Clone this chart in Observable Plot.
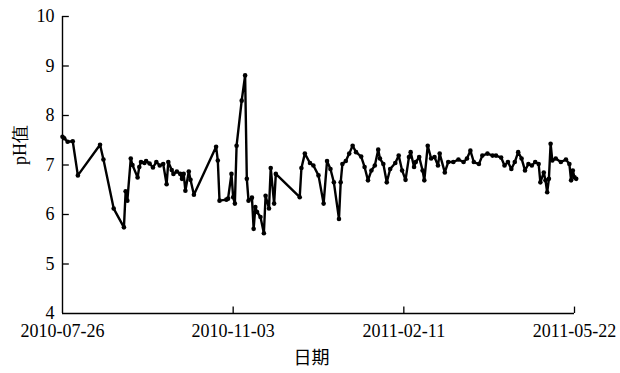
<!DOCTYPE html>
<html>
<head>
<meta charset="utf-8">
<script src="https://cdn.jsdelivr.net/npm/d3@7"></script>
<script src="https://cdn.jsdelivr.net/npm/@observablehq/plot@0.6"></script>
<style>
  html, body { margin: 0; padding: 0; background: #fff; }
  #chart svg { display: block; }
</style>
</head>
<body>
<div id="chart"></div>
<script>
const dates = [
  "2010-07-26","2010-07-27","2010-07-29","2010-08-01","2010-08-04","2010-08-17","2010-08-19","2010-08-25","2010-08-31",
  "2010-09-01","2010-09-02","2010-09-04","2010-09-05","2010-09-08","2010-09-09","2010-09-10","2010-09-12","2010-09-13",
  "2010-09-15","2010-09-17","2010-09-19","2010-09-21","2010-09-23","2010-09-25","2010-09-26","2010-09-28","2010-09-29",
  "2010-10-01","2010-10-03","2010-10-04","2010-10-05","2010-10-06","2010-10-08","2010-10-09","2010-10-11","2010-10-24",
  "2010-10-25","2010-10-26","2010-10-30","2010-10-31","2010-11-02","2010-11-03","2010-11-04","2010-11-05","2010-11-08",
  "2010-11-10","2010-11-11","2010-11-12","2010-11-14","2010-11-15","2010-11-16","2010-11-17","2010-11-19","2010-11-21",
  "2010-11-22","2010-11-24","2010-11-25","2010-11-27","2010-11-28","2010-12-12","2010-12-13","2010-12-15","2010-12-18",
  "2010-12-20","2010-12-23","2010-12-26","2010-12-28","2010-12-30","2011-01-01","2011-01-04","2011-01-05","2011-01-06",
  "2011-01-08","2011-01-10","2011-01-12","2011-01-14","2011-01-17","2011-01-19","2011-01-21","2011-01-23","2011-01-25",
  "2011-01-27","2011-01-28","2011-01-30","2011-02-01","2011-02-03","2011-02-06","2011-02-08","2011-02-10","2011-02-12",
  "2011-02-14","2011-02-15","2011-02-17","2011-02-18","2011-02-20","2011-02-22","2011-02-23","2011-02-25","2011-02-27",
  "2011-03-01","2011-03-03","2011-03-04","2011-03-07","2011-03-09","2011-03-12","2011-03-15","2011-03-18","2011-03-20",
  "2011-03-22","2011-03-24","2011-03-27","2011-03-29","2011-04-01","2011-04-04","2011-04-06","2011-04-09","2011-04-11",
  "2011-04-13","2011-04-15","2011-04-17","2011-04-19","2011-04-21","2011-04-23","2011-04-25","2011-04-27","2011-04-29",
  "2011-05-01","2011-05-02","2011-05-04","2011-05-05","2011-05-06","2011-05-07","2011-05-08","2011-05-09","2011-05-11",
  "2011-05-14","2011-05-17","2011-05-19","2011-05-20","2011-05-21","2011-05-22","2011-05-23"
];
const phValues = [
  7.57,7.54,7.47,7.48,6.79,7.41,7.11,6.12,5.74,
  6.47,6.28,7.13,7.00,6.75,6.96,7.06,7.04,7.08,
  7.03,6.95,7.06,6.99,7.02,6.61,7.06,6.90,6.82,
  6.87,6.82,6.72,6.82,6.48,6.87,6.70,6.40,7.37,
  7.09,6.28,6.30,6.32,6.82,6.35,6.22,7.39,8.30,
  8.81,6.72,6.28,6.34,5.71,6.15,6.05,5.95,5.62,
  6.38,6.12,6.94,6.22,6.82,6.35,6.94,7.23,7.04,
  6.99,6.79,6.22,7.08,6.92,6.65,5.91,6.65,7.02,
  7.08,7.23,7.39,7.26,7.17,6.96,6.69,6.89,6.99,
  7.31,7.13,7.02,6.65,6.92,7.04,7.19,6.89,6.70,
  7.16,7.26,6.96,7.06,7.16,6.89,6.69,7.39,7.13,
  7.16,6.99,7.23,6.85,7.06,7.06,7.11,7.06,7.13,
  7.29,7.06,7.02,7.19,7.23,7.19,7.19,7.15,6.99,
  7.06,6.92,7.06,7.26,7.13,6.89,7.02,6.99,7.06,
  7.02,6.65,6.85,6.69,6.45,6.72,7.43,7.09,7.13,
  7.06,7.11,7.02,6.69,6.89,6.75,6.72
];
const xTickLabels = ["2010-07-26","2010-11-03","2011-02-11","2011-05-22"];
const yTickValues = [4,5,6,7,8,9,10];
const xLabel = "日期";
const yLabel = "pH值";

const serif = "'Liberation Serif', 'Times New Roman', serif";
const data = dates.map((d, i) => ({date: new Date(d), ph: phValues[i]}));
const xTicks = xTickLabels.map(d => new Date(d));
const xStart = xTicks[0];
const xEnd = xTicks[xTicks.length - 1];
const fmt = d3.utcFormat("%Y-%m-%d");

const chart = Plot.plot({
  width: 620,
  height: 373,
  marginTop: 16,
  marginRight: 46,
  marginBottom: 60,
  marginLeft: 62,
  style: {fontFamily: serif, fontSize: "18px", color: "#000", background: "#fff"},
  x: {type: "utc", domain: [xStart, xEnd]},
  y: {domain: [4, 10]},
  marks: [
    Plot.axisX(xTicks, {tickSize: 0, tickPadding: 11, tickFormat: fmt, fontSize: 18, fontFamily: serif, fontVariant: "normal", label: null}),
    Plot.axisY(yTickValues, {tickSize: 0, tickPadding: 8, tickFormat: d3.format("d"), fontSize: 18, fontFamily: serif, fontVariant: "normal", label: null}),
    Plot.ruleX(xTicks.slice(1), {y1: 4, y2: 4.13, stroke: "#000", strokeWidth: 1.3}),
    Plot.ruleY(yTickValues.slice(1), {x1: xStart, x2: d3.utcDay.offset(xStart, 4), stroke: "#000", strokeWidth: 1.3}),
    Plot.ruleY([4], {stroke: "#000", strokeWidth: 1.4}),
    Plot.ruleX([xStart], {stroke: "#000", strokeWidth: 1.4}),
    Plot.line(data, {x: "date", y: "ph", stroke: "#000", strokeWidth: 2.4, strokeLinejoin: "round"}),
    Plot.dot(data, {x: "date", y: "ph", r: 2.3, fill: "#000", stroke: null}),
    Plot.text([xLabel], {frameAnchor: "bottom", dy: 50, dx: -7, fontSize: 18, fontFamily: "'Noto Sans CJK SC', sans-serif", fill: "#000"}),
    Plot.text([yLabel], {frameAnchor: "left", dx: -42, rotate: -90, fontSize: 18, fontFamily: serif, fill: "#000"})
  ]
});
document.getElementById("chart").appendChild(chart);
</script>
</body>
</html>
